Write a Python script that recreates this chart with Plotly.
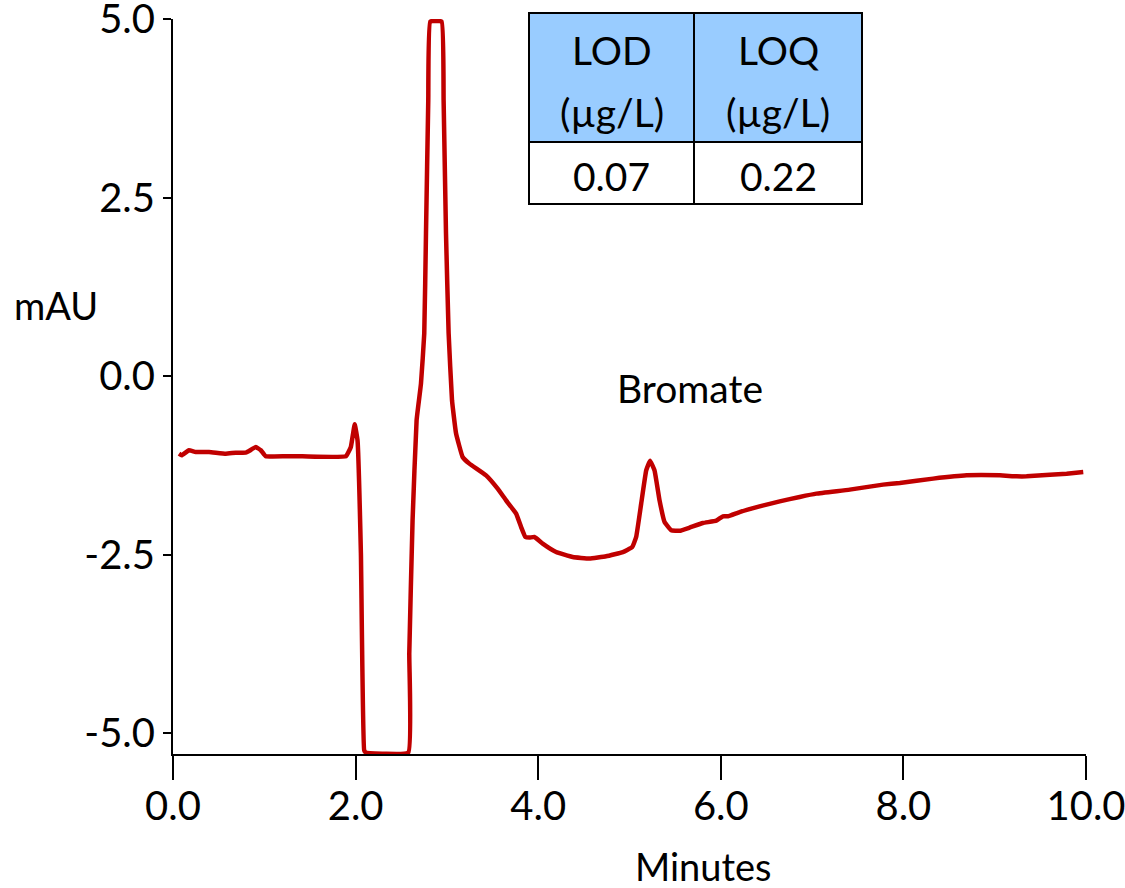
import plotly.graph_objects as go

# Chromatogram trace (minutes, mAU)
minutes = [0.066, 0.095, 0.175, 0.249, 0.395, 0.578, 0.688, 0.797, 0.833, 0.907, 0.962, 1.016,
           1.236, 1.418, 1.894, 1.948, 1.990, 2.021, 2.058, 2.094, 2.113, 2.577, 2.588, 2.624,
           2.668, 2.716, 2.752, 2.771, 2.796, 2.818, 2.942, 2.964, 2.990, 3.019, 3.056, 3.100,
           3.172, 3.246, 3.429, 3.556, 3.648, 3.758, 3.813, 3.860, 3.904, 3.958, 4.049, 4.196,
           4.378, 4.561, 4.745, 4.927, 5.030, 5.073, 5.128, 5.183, 5.225, 5.274, 5.329, 5.384,
           5.457, 5.548, 5.658, 5.804, 5.951, 6.023, 6.078, 6.206, 6.425, 6.645, 6.864, 7.047,
           7.412, 7.777, 7.961, 8.326, 8.692, 9.057, 9.240, 9.349, 9.605, 9.788, 9.970]
mau = [-1.083, -1.106, -1.036, -1.060, -1.060, -1.083, -1.069, -1.069, -1.046, -0.990, -1.036, -1.120,
       -1.120, -1.120, -1.120, -0.990, -0.672, -0.896, -2.479, -5.238, -5.27, -5.27, -3.880, -2.017,
       -0.616, -0.102, 0.602, 2.003, 3.866, 4.97, 4.97, 3.866, 2.003, 0.602, -0.336, -0.798,
       -1.130, -1.223, -1.387, -1.573, -1.737, -1.923, -2.111, -2.251, -2.259, -2.251, -2.343, -2.461,
       -2.531, -2.553, -2.521, -2.461, -2.391, -2.251, -1.783, -1.317, -1.183, -1.317, -1.737, -2.041,
       -2.157, -2.164, -2.119, -2.055, -2.021, -1.961, -1.961, -1.901, -1.821, -1.751, -1.690, -1.643,
       -1.587, -1.517, -1.494, -1.433, -1.387, -1.387, -1.401, -1.401, -1.377, -1.363, -1.340]

x_ticks = [0, 2, 4, 6, 8, 10]
x_tick_labels = ["0.0", "2.0", "4.0", "6.0", "8.0", "10.0"]
y_ticks = [-5, -2.5, 0, 2.5, 5]
y_tick_labels = ["-5.0", "-2.5", "0.0", "2.5", "5.0"]

table_header_names = ["LOD", "LOQ"]
table_header_units = ["(µg/L)", "(µg/L)"]
table_values = ["0.07", "0.22"]

peak_label = "Bromate"
peak_label_pos = (5.66, -0.17)

FONT = "Lato, 'Open Sans', sans-serif"
RED = "#C00000"

fig = go.Figure()
fig.add_trace(go.Scatter(x=minutes, y=mau, mode="lines",
                         line=dict(color=RED, width=4.5, shape="spline", smoothing=0.3),
                         showlegend=False, hoverinfo="skip"))

fig.update_layout(
    width=1125, height=888,
    margin=dict(l=173, r=39, t=19, b=134, autoexpand=False),
    paper_bgcolor="white", plot_bgcolor="white",
    font=dict(family=FONT, size=40, color="black"),
    xaxis=dict(range=[0, 10], tickvals=x_ticks, ticktext=x_tick_labels,
               showgrid=False, zeroline=False, showline=True, linecolor="black", linewidth=2,
               ticks="outside", ticklen=24, tickwidth=2, tickcolor="black",
               ticklabelstandoff=-8, ticklabeloverflow="allow", automargin=False,
               fixedrange=True),
    yaxis=dict(range=[-5.29, 5.005], tickvals=y_ticks, ticktext=y_tick_labels,
               showgrid=False, zeroline=False, showline=True, linecolor="black", linewidth=2,
               ticks="outside", ticklen=8, tickwidth=2, tickcolor="black",
               ticklabelstandoff=0, ticklabeloverflow="allow", automargin=False,
               fixedrange=True),
)

def px_to_paper_x(px):
    return (px - 173) / 913.0

def px_to_paper_y(py):
    return (754 - py) / 735.0

# axis titles
fig.add_annotation(text="Minutes", xref="paper", yref="paper",
                   x=px_to_paper_x(703), y=px_to_paper_y(866),
                   showarrow=False, xanchor="center", yanchor="middle", font=dict(size=38))
fig.add_annotation(text="mAU", xref="paper", yref="paper",
                   x=px_to_paper_x(56), y=px_to_paper_y(305),
                   showarrow=False, xanchor="center", yanchor="middle", font=dict(size=38))
fig.add_annotation(text=peak_label, x=peak_label_pos[0], y=peak_label_pos[1],
                   showarrow=False, xanchor="center", yanchor="middle", font=dict(size=39))

# inset table (paper coordinates)
tx0, tx1, tmid = px_to_paper_x(529), px_to_paper_x(862), px_to_paper_x(694)
ty_top, ty_hdr, ty_bot = px_to_paper_y(13), px_to_paper_y(142), px_to_paper_y(204)

for i, (name, unit, v) in enumerate(zip(table_header_names, table_header_units, table_values)):
    c0 = tx0 if i == 0 else tmid
    c1 = tmid if i == 0 else tx1
    fig.add_shape(type="rect", xref="paper", yref="paper", x0=c0, x1=c1, y0=ty_hdr, y1=ty_top,
                  fillcolor="#99CCFF", line=dict(color="black", width=2), layer="above")
    fig.add_shape(type="rect", xref="paper", yref="paper", x0=c0, x1=c1, y0=ty_bot, y1=ty_hdr,
                  fillcolor="white", line=dict(color="black", width=2), layer="above")
    cx = (c0 + c1) / 2
    fig.add_annotation(text=name, xref="paper", yref="paper", x=cx, y=px_to_paper_y(50),
                       showarrow=False, xanchor="center", yanchor="middle", font=dict(size=39))
    fig.add_annotation(text=unit, xref="paper", yref="paper", x=cx, y=px_to_paper_y(112),
                       showarrow=False, xanchor="center", yanchor="middle", font=dict(size=39))
    fig.add_annotation(text=v, xref="paper", yref="paper", x=cx, y=px_to_paper_y(176),
                       showarrow=False, xanchor="center", yanchor="middle", font=dict(size=39))

fig.write_html("out.html", config={"displayModeBar": False},
               post_script="document.body.style.margin='0px';")
